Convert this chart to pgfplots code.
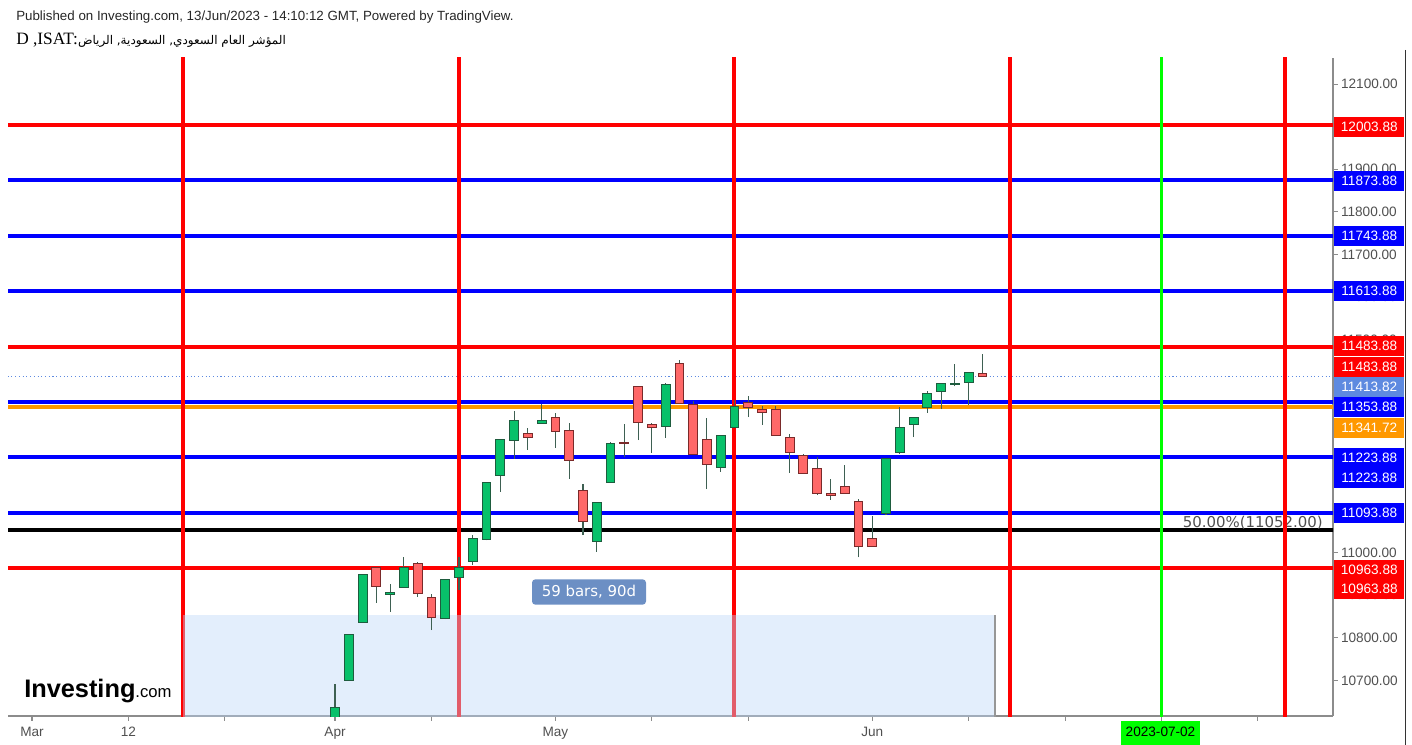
\documentclass[border=0pt]{standalone}
\usepackage{pgfplots}
\usepackage{pgfplotstable}
\pgfplotsset{compat=1.18}
\usepackage{fontspec}
\setmainfont{Liberation Sans}
\newfontfamily\seriffont{Liberation Serif}
\newfontfamily\dejavu{DejaVu Sans}
\newfontfamily\arabicfont[Script=Arabic]{DejaVu Sans}
\TeXXeTstate=1

\definecolor{lred}{RGB}{255,0,0}
\definecolor{lblue}{RGB}{0,0,255}
\definecolor{lorange}{RGB}{255,152,0}
\definecolor{lgreen}{RGB}{0,255,0}
\definecolor{lastc}{RGB}{94,138,224}
\definecolor{upfill}{RGB}{8,193,106}
\definecolor{upedge}{RGB}{30,92,62}
\definecolor{dnfill}{RGB}{255,104,104}
\definecolor{dnedge}{RGB}{122,42,42}
\definecolor{wick}{RGB}{62,96,82}
\definecolor{axgray}{RGB}{140,140,140}
\definecolor{ticktext}{RGB}{80,80,80}
\definecolor{zone}{RGB}{190,215,248}
\definecolor{tagblue}{RGB}{108,143,196}

% daily candles, x = bar index (0 = first bar of April)
\pgfplotstableread{
x  o        h      l      c
0  10600    10692  10590  10637
1  10701    10809  10700  10808
2  10836    10950  10835  10949
3  10965    10967  10882  10921
4  10902    10926  10861  10907
5  10918    10990  10917  10965
6  10975    10979  10896  10904
7  10895    10904  10818  10848
8  10845    10938  10844  10937
9  10942    10990  10912  10965
10 10980    11041  10971  11034
11 11030    11166  11029  11165
12 11180    11267  11143  11266
13 11264    11333  11220  11310
14 11280    11292  11241  11271
15 11303    11350  11303  11310
16 11318    11327  11246  11285
17 11286    11304  11173  11217
18 11145    11160  11041  11074
19 11027    11118  11002  11118
20 11165    11259  11165  11257
21 11259    11301  11224  11257
22 11391    11392  11264  11306
23 11301    11304  11235  11294
24 11297    11399  11270  11395
25 11444    11452  11349  11350
26 11348    11357  11229  11230
27 11266    11315  11149  11206
28 11199    11277  11190  11276
29 11294    11358  11293  11344
30 11352    11368  11318  11341
31 11336    11345  11300  11329
32 11336    11345  11275  11276
33 11271    11278  11188  11236
34 11227    11231  11185  11186
35 11198    11224  11135  11138
36 11139    11172  11124  11135
37 11156    11205  11138  11139
38 11121    11125  10989  11015
39 11034    11087  11014  11015
40 11092    11222  11088  11221
41 11235    11341  11231  11294
42 11300    11318  11271  11318
43 11340    11380  11328  11374
44 11379    11398  11337  11398
45 11394    11443  11390  11398
46 11400    11423  11347  11423
47 11421    11466  11414  11413.82
}\candles

\pgfplotsset{
  wickup/.style={draw=wick, line width=0.8pt},
  wickdn/.style={draw=wick, line width=0.8pt},
  bodyup/.style={fill=upfill, draw=upedge, line width=0.7pt},
  bodydn/.style={fill=dnfill, draw=dnedge, line width=0.7pt},
  hline/.style={line width=3pt},
}

\newcommand\drawcandles{%
  \pgfplotstablegetrowsof{\candles}%
  \pgfmathtruncatemacro\lastrow{\pgfplotsretval-1}%
  \foreach \r in {0,...,\lastrow}{%
    \pgfplotstablegetelem{\r}{x}\of\candles\let\cx\pgfplotsretval
    \pgfplotstablegetelem{\r}{o}\of\candles\let\co\pgfplotsretval
    \pgfplotstablegetelem{\r}{h}\of\candles\let\ch\pgfplotsretval
    \pgfplotstablegetelem{\r}{l}\of\candles\let\cl\pgfplotsretval
    \pgfplotstablegetelem{\r}{c}\of\candles\let\cc\pgfplotsretval
    \pgfmathsetmacro\xa{\cx-0.32}%
    \pgfmathsetmacro\xb{\cx+0.32}%
    \pgfmathtruncatemacro\isup{\cc>=\co ? 1 : 0}%
    \ifnum\isup=1 \def\kind{up}\else\def\kind{dn}\fi
    \edef\doit{%
      \noexpand\addplot[wick\kind] coordinates {(\cx,\cl)(\cx,\ch)};%
      \noexpand\addplot[body\kind] coordinates {(\xa,\co)(\xb,\co)(\xb,\cc)(\xa,\cc)} -- cycle;%
    }%
    \doit
  }%
}

\begin{document}
\begin{tikzpicture}
\path[use as bounding box] (0,0) rectangle (1059pt,-558.75pt);

\begin{axis}[
  at={(6pt,-537pt)}, anchor=south west,
  scale only axis, width=993.75pt, height=493.5pt,
  xmin=-23.74, xmax=72.45, ymin=10616.4, ymax=12161.2,
  axis x line*=bottom, axis y line*=right,
  axis line style={draw=axgray, line width=0.8pt},
  tick style={draw=axgray, line width=0.8pt},
  tick align=outside, major tick length=3.5pt,
  xtick={-22,-15,-8,0,7,16,23,30,39,46,53,60,67},
  xticklabels={Mar,12,,Apr,,May,,,Jun,,,,},
  ytick={10700,10800,...,12100},
  scaled y ticks=false,
  /pgf/number format/assume math mode=true,
  yticklabel={\pgfmathprintnumber[fixed,fixed zerofill,precision=2,1000 sep={}]{\tick}},
  tick label style={font=\fontsize{10.2pt}{11pt}\selectfont, text=ticktext},
  yticklabel style={anchor=west, xshift=-1pt},
  xticklabel style={yshift=-1pt},
  clip mode=individual,
]
% horizontal levels
\addplot[hline, lred]    coordinates {(-30,12003.88)(80,12003.88)};
\addplot[hline, lblue]   coordinates {(-30,11873.88)(80,11873.88)};
\addplot[hline, lblue]   coordinates {(-30,11743.88)(80,11743.88)};
\addplot[hline, lblue]   coordinates {(-30,11613.88)(80,11613.88)};
\addplot[hline, lred]    coordinates {(-30,11483.88)(80,11483.88)};
\addplot[lastc, line width=0.8pt, dotted] coordinates {(-30,11413.82)(80,11413.82)};
\addplot[hline, lblue]   coordinates {(-30,11353.88)(80,11353.88)};
\addplot[hline, lorange, line width=2.4pt] coordinates {(-30,11341.72)(80,11341.72)};
\addplot[hline, lblue]   coordinates {(-30,11223.88)(80,11223.88)};
\addplot[hline, lblue]   coordinates {(-30,11093.88)(80,11093.88)};
\addplot[hline, black]   coordinates {(-30,11052)(80,11052)};
\addplot[hline, lred]    coordinates {(-30,10963.88)(80,10963.88)};
\node[anchor=south east, inner sep=0pt, text=ticktext, font=\dejavu\fontsize{11.2pt}{12pt}\selectfont]
  at (axis cs:71.72,11054) {50.00\%(11052.00)};
% vertical cycle lines
\addplot[hline, lred] coordinates {(-11,10500)(-11,12300)};
\addplot[hline, lred] coordinates {(9,10500)(9,12300)};
\addplot[hline, lred] coordinates {(29,10500)(29,12300)};
\addplot[hline, lred] coordinates {(49,10500)(49,12300)};
\addplot[hline, lred] coordinates {(69,10500)(69,12300)};
\addplot[lgreen, line width=2.3pt] coordinates {(60,10500)(60,12300)};
% date range zone
\addplot[fill=zone, fill opacity=0.43, draw=none] coordinates {(-11,10500)(48,10500)(48,10853.5)(-11,10853.5)} -- cycle;
\addplot[draw=axgray!90, line width=1.3pt] coordinates {(47.9,10500)(47.9,10853.5)};
% candles
\drawcandles
\end{axis}

\begin{scope}[x=0.75pt,y=-0.75pt]
% header
\node[anchor=west, inner sep=0pt, font=\fontsize{10pt}{11pt}\selectfont, text=black!85]
  at (16,17) {Published on Investing.com, 13/Jun/2023 - 14:10:12 GMT, Powered by TradingView.};
\node[anchor=west, inner sep=0pt] at (16,40)
  {{\seriffont\fontsize{13pt}{14pt}\selectfont D ,ISAT:}{\arabicfont\fontsize{9pt}{10pt}\selectfont\beginR المؤشر العام السعودي, السعودية, الرياض\endR}};
% right border
\draw[black!80, line width=0.8pt] (1405.5,50) -- (1405.5,745);
% price tags
\foreach \yy/\cl/\tx in {126.7/lred/12003.88, 180.7/lblue/11873.88, 235.7/lblue/11743.88,
    291/lblue/11613.88, 346/lred/11483.88, 366.5/lred/11483.88, 386.7/lastc/11413.82,
    406.7/lblue/11353.88, 427.7/lorange/11341.72, 458.3/lblue/11223.88, 478.3/lblue/11223.88,
    513.3/lblue/11093.88, 570/lred/10963.88, 589.3/lred/10963.88}{
  \node[anchor=west, fill=\cl, text=white, inner sep=0pt, minimum width=52.5pt, minimum height=15pt,
        font=\fontsize{10.2pt}{11pt}\selectfont] at (1334,\yy) {\tx};
}
% range tag
\node[fill=tagblue, rounded corners=2.5pt, text=white, minimum width=85.5pt, minimum height=19pt,
      inner sep=0pt, font=\dejavu\fontsize{11.2pt}{12pt}\selectfont] at (589,592) {59 bars, 90d};
% date tag
\fill[lgreen] (1121,721) rectangle (1200,745);
\node[font=\fontsize{10.2pt}{11pt}\selectfont, inner sep=0pt] at (1160.5,731.5) {2023-07-02};
% watermark
\node[anchor=base west, inner sep=0pt] at (24,697)
  {{\bfseries\fontsize{19pt}{20pt}\selectfont Investing}{\fontsize{12.5pt}{13pt}\selectfont .com}};
\end{scope}
\end{tikzpicture}
\end{document}
